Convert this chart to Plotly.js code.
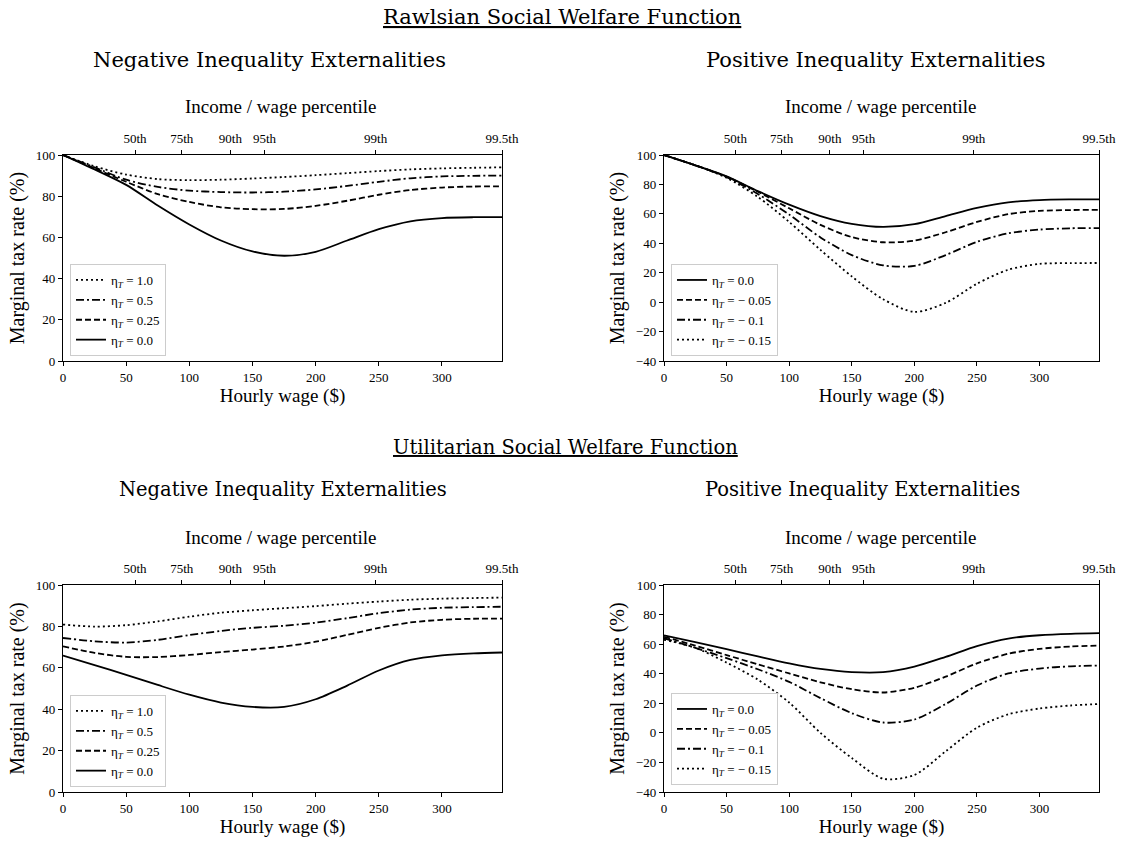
<!DOCTYPE html>
<html><head><meta charset="utf-8">
<script src="https://cdn.plot.ly/plotly-3.0.1.min.js"></script>
<style>html,body{margin:0;padding:0;background:#fff}</style>
</head><body><div id="chart" style="width:1124px;height:842px"></div>
<script>
// ---------------- data ----------------
const wage = [0,25,50,75,100,125,150,175,200,225,250,275,300,325,347.5];
const pctLabels = ['50th','75th','90th','95th','99th','99.5th'];
const pctWage = [57,94,132.5,159.5,247.5,347.5];

// Rawlsian, negative inequality externalities
const rawlsNeg_eta100 = [100,94.5,90.5,88.3,87.8,88.0,88.6,89.3,90.2,91.2,92.2,93.0,93.5,93.8,94.0];
const rawlsNeg_eta050 = [100,94,88,84.5,82.7,82.0,81.8,82.2,83.3,85.0,87.0,88.7,89.6,89.9,90.0];
const rawlsNeg_eta025 = [100,93.5,87,81,77.2,74.6,73.7,73.8,75.3,77.8,80.7,83.0,84.2,84.7,84.8];
const rawls_eta000    = [100,93,85.5,75.5,66.3,58.5,53.2,51.1,53.0,58.5,64.0,67.8,69.4,69.8,69.8];
// Rawlsian, positive inequality externalities
const rawlsPos_eta005 = [100,93,85.3,75,63.8,52.5,44.2,40.7,41.8,47.5,54.5,59.8,62.0,62.6,62.7];
const rawlsPos_eta010 = [100,93,85,73.5,59.5,44,32,25,24.6,32,41,46.8,49.3,50.2,50.3];
const rawlsPos_eta015 = [100,93,84.5,71.5,54.5,35.5,17.5,2,-6.6,-0.5,12.5,22,26,26.5,26.6];

// Utilitarian, negative inequality externalities
const utilNeg_eta100 = [80.9,79.9,80.6,82.4,84.7,86.6,87.8,88.8,89.8,91.0,92.0,92.9,93.4,93.7,93.9];
const utilNeg_eta050 = [74.4,72.8,72.2,73.5,75.8,77.8,79.3,80.3,81.8,84.0,86.4,88.1,89.0,89.3,89.5];
const utilNeg_eta025 = [70.4,67.2,65.3,65.2,66.2,67.6,68.8,70.3,72.6,75.9,79.3,81.9,83.2,83.7,83.8];
const util_eta000    = [65.9,61.3,56.6,51.7,47.0,43.2,41.1,41.1,44.8,51.4,58.7,63.8,66.0,67.0,67.4];
// Utilitarian, positive inequality externalities
const utilPos_eta005 = [65,59,52.6,46.3,40.2,34.2,29.5,27.3,30.5,38,47,53.5,56.8,58.4,59];
const utilPos_eta010 = [64,57.5,50.5,43,34.5,23.5,13.3,7,9,19.5,32,40.2,43.5,45,45.5];
const utilPos_eta015 = [63,57.5,47.5,36,20.5,0,-17,-31,-28.5,-12.5,3.5,12.5,16.5,18.5,19.5];

// ---------------- styling ----------------
const SERIF = 'Liberation Serif, Times New Roman, serif';
const TITLEF = 'DejaVu Serif, serif';
const DASH = {solid:'solid', dash:'6px,3px', dot:'2px,3px', dashdot:'8px,3px,2px,3px'};
function lbl(v){ return 'η<sub><i>T</i></sub> = ' + v; }
function tr(y, name, dash, xa, ya, lg){
  return {x: wage, y: y, name: name, type:'scatter', mode:'lines',
    line:{color:'#000', width:1.8, dash:DASH[dash], shape:'spline', smoothing:0.8},
    xaxis: xa, yaxis: ya, legend: lg, hoverinfo:'skip'};
}
function pctTrace(xa, ya, y0){
  return {x: pctWage, y: pctWage.map(()=>y0), type:'scatter', mode:'markers',
    marker:{opacity:0, size:1}, xaxis: xa, yaxis: ya, showlegend:false, hoverinfo:'skip'};
}
const traces = [
  tr(rawlsNeg_eta100, lbl('1.0'), 'dot', 'x', 'y', 'legend'),
  tr(rawlsNeg_eta050, lbl('0.5'), 'dashdot', 'x', 'y', 'legend'),
  tr(rawlsNeg_eta025, lbl('0.25'), 'dash', 'x', 'y', 'legend'),
  tr(rawls_eta000, lbl('0.0'), 'solid', 'x', 'y', 'legend'),
  tr(rawls_eta000, lbl('0.0'), 'solid', 'x2', 'y2', 'legend2'),
  tr(rawlsPos_eta005, lbl('− 0.05'), 'dash', 'x2', 'y2', 'legend2'),
  tr(rawlsPos_eta010, lbl('− 0.1'), 'dashdot', 'x2', 'y2', 'legend2'),
  tr(rawlsPos_eta015, lbl('− 0.15'), 'dot', 'x2', 'y2', 'legend2'),
  tr(utilNeg_eta100, lbl('1.0'), 'dot', 'x3', 'y3', 'legend3'),
  tr(utilNeg_eta050, lbl('0.5'), 'dashdot', 'x3', 'y3', 'legend3'),
  tr(utilNeg_eta025, lbl('0.25'), 'dash', 'x3', 'y3', 'legend3'),
  tr(util_eta000, lbl('0.0'), 'solid', 'x3', 'y3', 'legend3'),
  tr(util_eta000, lbl('0.0'), 'solid', 'x4', 'y4', 'legend4'),
  tr(utilPos_eta005, lbl('− 0.05'), 'dash', 'x4', 'y4', 'legend4'),
  tr(utilPos_eta010, lbl('− 0.1'), 'dashdot', 'x4', 'y4', 'legend4'),
  tr(utilPos_eta015, lbl('− 0.15'), 'dot', 'x4', 'y4', 'legend4'),
  pctTrace('x5','y',50), pctTrace('x6','y2',50), pctTrace('x7','y3',50), pctTrace('x8','y4',50)
];

const W = 1124, H = 842;
const px = v => v / W, py = v => (H - v) / H;
const dxL = [px(63), px(502)], dxR = [px(664), px(1099)];
const dyT = [py(361), py(155)], dyB = [py(792), py(585)];

const tickFont = {family: SERIF, size: 13, color:'#000'};
function xaxis(domain, anchor){
  return {domain: domain, anchor: anchor, range:[0,347.5], tickvals:[0,50,100,150,200,250,300],
    ticks:'outside', ticklen:4, tickwidth:1, tickcolor:'#000', showline:true, linecolor:'#000', linewidth:1.2,
    mirror:true, showgrid:false, zeroline:false, tickfont: tickFont,
    title:{text:'Hourly wage ($)', font:{family:SERIF, size:19, color:'#000'}, standoff:3}};
}
function yaxis(domain, anchor, lo){
  return {domain: domain, anchor: anchor, range:[lo,100], dtick:20, tick0:0,
    ticks:'outside', ticklen:4, tickwidth:1, tickcolor:'#000', showline:true, linecolor:'#000', linewidth:1.2,
    mirror:true, showgrid:false, zeroline:false, tickfont: tickFont,
    title:{text:'Marginal tax rate (%)', font:{family:SERIF, size:20, color:'#000'}, standoff:5}};
}
function topaxis(over, anchor){
  return {overlaying: over, anchor: anchor, side:'top', range:[0,347.5], tickvals: pctWage, ticktext: pctLabels,
    ticks:'outside', ticklen:4, tickwidth:1, tickcolor:'#000', showline:false, showgrid:false, zeroline:false,
    ticklabelstandoff: 2, tickfont: tickFont};
}
function legend(xl, yb){
  return {x: px(xl), y: py(yb), xanchor:'left', yanchor:'bottom', bgcolor:'rgba(255,255,255,0.85)',
    bordercolor:'#cccccc', borderwidth:1, font:{family:SERIF, size:13, color:'#000'}, itemwidth:30,
    tracegroupgap:0};
}
function ann(text, xc, yc, size, fam, under){
  const f = {family: fam, size: size, color:'#000'};
  if (under) f.lineposition = 'under';
  return {text: text, x: px(xc), y: py(yc), xref:'paper', yref:'paper', xanchor:'center', yanchor:'middle',
    showarrow:false, font: f};
}

const layout = {
  width: W, height: H, margin:{l:0,r:0,t:0,b:0}, paper_bgcolor:'#fff', plot_bgcolor:'#fff',
  showlegend: true,
  xaxis: xaxis(dxL,'y'), yaxis: yaxis(dyT,'x',0),
  xaxis2: xaxis(dxR,'y2'), yaxis2: yaxis(dyT,'x2',-40),
  xaxis3: xaxis(dxL,'y3'), yaxis3: yaxis(dyB,'x3',0),
  xaxis4: xaxis(dxR,'y4'), yaxis4: yaxis(dyB,'x4',-40),
  xaxis5: topaxis('x','y'), xaxis6: topaxis('x2','y2'), xaxis7: topaxis('x3','y3'), xaxis8: topaxis('x4','y4'),
  legend: legend(70, 356), legend2: legend(671, 356), legend3: legend(70, 787), legend4: legend(671, 785),
  annotations: [
    ann('Rawlsian Social Welfare Function', 562, 17, 21, TITLEF, true),
    ann('Negative Inequality Externalities', 269, 60, 21, TITLEF),
    ann('Positive Inequality Externalities', 876, 60, 21, TITLEF),
    ann('Income / wage percentile', 280, 107, 19, SERIF),
    ann('Income / wage percentile', 880, 107, 19, SERIF),
    ann('Utilitarian Social Welfare Function', 565, 447, 19.5, TITLEF, true),
    ann('Negative Inequality Externalities', 283, 490, 19.5, TITLEF),
    ann('Positive Inequality Externalities', 862, 490, 19.5, TITLEF),
    ann('Income / wage percentile', 280, 537, 19, SERIF),
    ann('Income / wage percentile', 880, 537, 19, SERIF)
  ]
};
Plotly.newPlot('chart', traces, layout, {displayModeBar:false, staticPlot:true});
</script></body></html>
